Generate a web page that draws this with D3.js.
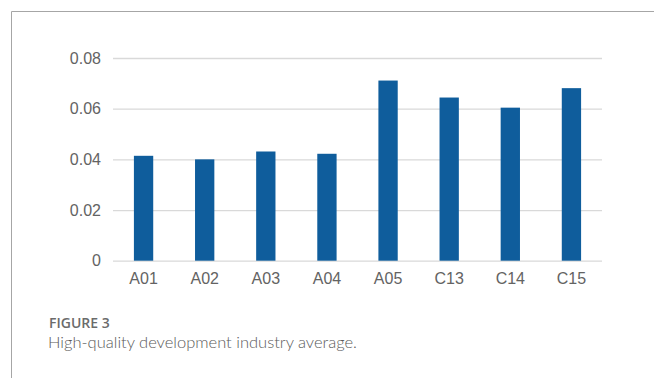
<!DOCTYPE html>
<html>
<head>
<meta charset="utf-8">
<script src="https://cdn.jsdelivr.net/npm/d3@7"></script>
<style>
  html, body { margin: 0; padding: 0; background: #fff; }
  svg { display: block; }
</style>
</head>
<body>
<svg id="viz" width="654" height="378"></svg>
<script>
// industry codes and their averages
var categories = ["A01", "A02", "A03", "A04", "A05", "C13", "C14", "C15"];
var values = [0.0414, 0.0400, 0.0431, 0.0422, 0.0711, 0.0644, 0.0604, 0.0681];
var yTicks = [0, 0.02, 0.04, 0.06, 0.08];
var yTickLabels = ["0", "0.02", "0.04", "0.06", "0.08"];

var svg = d3.select("#viz");

// frame line (top and left edge of the figure box)
svg.append("path")
  .attr("d", "M11.5,378 V11.5 H654")
  .attr("fill", "none")
  .attr("stroke", "#a6a6a6")
  .attr("stroke-width", 1);

var x = d3.scaleBand()
  .domain(categories)
  .range([113, 602])
  .paddingInner(0.684)
  .paddingOuter(0.342);

var y = d3.scaleLinear()
  .domain([0, 0.08])
  .range([260.7, 58]);

// gridlines + y labels
var yAxis = d3.axisLeft(y)
  .tickValues(yTicks)
  .tickFormat((d, i) => yTickLabels[i])
  .tickSize(-(602 - 113))
  .tickPadding(12);

var gy = svg.append("g")
  .attr("transform", "translate(113,0)")
  .call(yAxis);
gy.select(".domain").remove();
gy.selectAll(".tick line")
  .attr("stroke", "#d9d9d9")
  .attr("stroke-width", 1.3);
gy.selectAll(".tick text")
  .attr("fill", "#636363")
  .attr("font-family", "'Liberation Sans', Arial, sans-serif")
  .attr("font-size", "16px");

// bars
svg.append("g")
  .selectAll("rect")
  .data(values)
  .join("rect")
  .attr("x", (d, i) => x(categories[i]))
  .attr("width", x.bandwidth())
  .attr("y", d => y(d))
  .attr("height", d => y(0) - y(d))
  .attr("fill", "#0f5d9c");

// x labels
var xAxis = d3.axisBottom(x).tickSize(0).tickPadding(12);
var gx = svg.append("g")
  .attr("transform", "translate(0," + y(0) + ")")
  .call(xAxis);
gx.select(".domain").remove();
gx.selectAll(".tick text")
  .attr("fill", "#636363")
  .attr("font-family", "'Liberation Sans', Arial, sans-serif")
  .attr("font-size", "16px");

// caption
svg.append("text")
  .attr("x", 49)
  .attr("y", 327.5)
  .attr("fill", "#6b6b6b")
  .attr("font-family", "'Open Sans', sans-serif")
  .attr("font-weight", 600)
  .attr("font-size", "14px")
  .text("FIGURE 3");

svg.append("text")
  .attr("x", 48)
  .attr("y", 348)
  .attr("fill", "#5a5a5a")
  .attr("font-family", "Lato, sans-serif")
  .attr("font-weight", 300)
  .attr("font-size", "16.5px")
  .text("High-quality development industry average.");
</script>
</body>
</html>
